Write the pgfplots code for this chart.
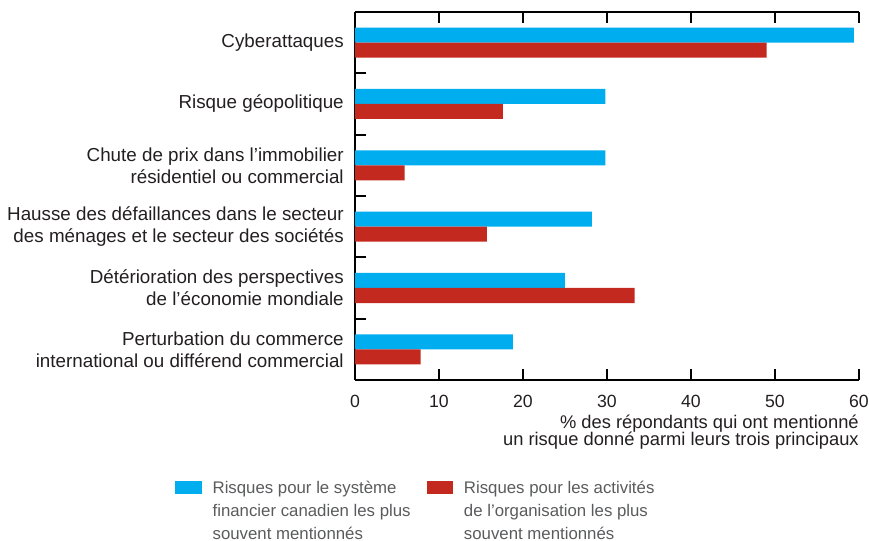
\documentclass[border=0pt]{standalone}
\usepackage{pgfplots}
\pgfplotsset{compat=1.18}
\usetikzlibrary{calc}
\usepackage{fontspec}
\setmainfont{Liberation Sans}
\definecolor{cblue}{HTML}{00AEEF}
\definecolor{cred}{HTML}{C4291F}
\definecolor{lgray}{HTML}{5A5B5D}
\definecolor{txt}{HTML}{231F20}
\newcommand\nolsk{\lineskiplimit-20pt\relax}
\newcommand\catfont{\fontsize{14.1}{16.5}\selectfont\nolsk}
\newcommand\labfont{\fontsize{13.75}{12.6}\selectfont\nolsk}
\newcommand\legfont{\fontsize{12.6}{17.25}\selectfont\nolsk}
\begin{document}
\begin{tikzpicture}
\begin{axis}[
  scale only axis, width=378pt, height=276pt,
  xbar, bar width=11.25pt,
  xmin=0, xmax=60, ymin=-0.5, ymax=5.5,
  axis x line*=box, axis y line*=left,
  axis line style={line width=1.4pt, black},
  tick style={line width=1.4pt, black},
  major tick length=8.25pt,
  tick align=inside,
  xtick={0,10,...,60}, xtick pos=both, xticklabel pos=lower,
  /pgf/number format/assume math mode=true,
  xticklabel style={font=\fontsize{13.25}{15}\selectfont, text=txt, inner sep=0pt, yshift=-11.5pt},
  ytick={0.5,1.5,2.5,3.5,4.5}, yticklabels={\empty,\empty,\empty,\empty,\empty}, ytick pos=left,
  extra y ticks={0,1,2,3,4,5},
  extra y tick labels={{Perturbation du commerce\\international ou différend commercial},
    {Détérioration des perspectives\\de l’économie mondiale},
    {Hausse des défaillances dans le secteur\\des ménages et le secteur des sociétés},
    {Chute de prix dans l’immobilier\\résidentiel ou commercial},
    {Risque géopolitique},
    {Cyberattaques}},
  extra y tick style={major tick length=0pt, yticklabel style={align=right, font=\catfont, text=txt, inner sep=0pt, xshift=-8.25pt}},
  xlabel={\% des répondants qui ont mentionné\\un risque donné parmi leurs trois principaux},
  xlabel style={at={(axis description cs:1,0)}, anchor=north east, align=right, inner sep=0pt, yshift=-26pt, font=\labfont, text=txt},
  legend columns=2,
  legend style={at={(axis description cs:-0.365,-0.266)}, anchor=north west, draw=none, fill=none,
    font=\legfont, text=lgray,
    cells={anchor=north west, align=left},
    nodes={inner sep=0pt},
    /tikz/every odd column/.append style={column sep=8pt},
    /tikz/every even column/.append style={column sep=12pt}},
  legend image code/.code={\fill[#1] (0pt,-0.5pt) rectangle (20pt,-10.25pt);},
]
\addplot[fill=cblue, draw=none, bar shift=5.625pt] coordinates {(59.4,5) (29.8,4) (29.8,3) (28.2,2) (25.0,1) (18.8,0)};
\addplot[fill=cred, draw=none, bar shift=-5.625pt] coordinates {(49.0,5) (17.6,4) (5.9,3) (15.7,2) (33.3,1) (7.8,0)};
\legend{{Risques pour le système\\financier canadien les plus\\souvent mentionnés},
  {Risques pour les activités\\de l’organisation les plus\\souvent mentionnés}}
\end{axis}
\pgfresetboundingbox
\path (current axis.south west) ++(-266.25pt,-120.75pt) rectangle ($(current axis.north east)+(7.5pt,9pt)$);
\end{tikzpicture}
\end{document}
